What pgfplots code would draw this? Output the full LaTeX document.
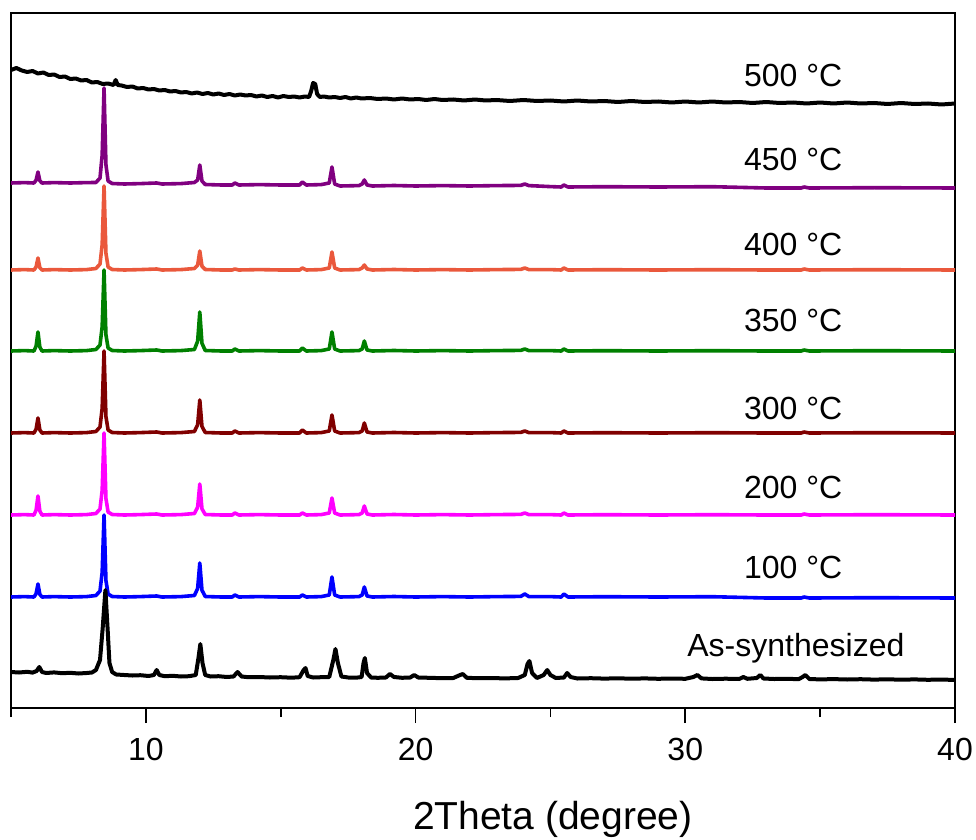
\documentclass[border=0pt]{standalone}
\usepackage{fontspec}
\setmainfont{Liberation Sans}
\usepackage{pgfplots}
\pgfplotsset{compat=1.18}

\definecolor{c500}{RGB}{0,0,0}
\definecolor{c450}{RGB}{128,0,128}
\definecolor{c400}{RGB}{234,88,60}
\definecolor{c350}{RGB}{0,128,0}
\definecolor{c300}{RGB}{128,0,0}
\definecolor{c200}{RGB}{255,0,255}
\definecolor{c100}{RGB}{0,0,255}

\begin{document}
\begin{tikzpicture}
\useasboundingbox (-11pt,-131pt) rectangle (965pt,708pt);
\begin{axis}[
  width=944pt, height=695pt, scale only axis,
  xmin=5, xmax=40, ymin=0, ymax=695,
  xtick={10,20,30,40}, minor xtick={5,15,25,35},
  ytick=\empty,
  tick pos=bottom, tick align=outside,
  major tick length=15pt, minor tick length=9pt,
  every tick/.style={black, line width=1.8pt},
  axis line style={line width=2.2pt},
  /pgf/number format/assume math mode=true,
  ticklabel style={font=\fontsize{32}{36}\selectfont},
  xticklabel style={yshift=-12pt},
  xlabel={2Theta (degree)},
  xlabel style={font=\fontsize{39}{44}\selectfont, at={(rel axis cs:0.574,0)}, anchor=center, yshift=-111pt},
  every axis plot/.append style={line width=3.6pt, line join=round},
]
% 500 C
\addplot[c500, line width=4pt] coordinates {
(5.0,638)(5.2,640)(5.4,637.5)(5.6,636)(5.8,637)(6.0,634.5)(6.2,635.5)(6.4,633)(6.6,633.5)(6.8,631)
(7.0,631.5)(7.2,629)(7.4,629.5)(7.6,627.5)(7.8,628)(8.0,625.5)(8.2,626)(8.4,624)(8.6,624.5)(8.8,623)
(8.88,628)(8.96,623)(9.1,622.5)(9.3,621)(9.5,621.5)(9.7,619.5)(9.9,620)(10.1,618.5)(10.3,619)(10.5,617.5)
(10.7,618)(10.9,616.5)(11.1,617)(11.3,615.5)(11.5,616)(11.7,614.5)(11.9,615.5)(12.1,614)(12.3,615)(12.5,613.5)
(12.7,614.5)(12.9,613)(13.1,614)(13.3,612.5)(13.5,613.5)(13.7,612.5)(13.9,613)(14.1,611.5)(14.3,612.5)(14.5,611)
(14.7,612)(14.9,610.5)(15.1,612)(15.3,611)(15.5,611.5)(15.7,610.5)(15.9,611.5)(16.05,611)(16.13,617)(16.2,625)
(16.28,624)(16.35,614)(16.45,611)(16.6,611.5)(16.8,610.5)(17.0,611)(17.2,610)(17.4,611)(17.6,609.5)(17.8,610.5)
(18.0,609.5)(18.3,610)(18.6,609)(18.9,609.5)(19.2,608.5)(19.5,609.5)(19.8,608.5)(20.1,609)(20.4,608)(20.7,609)
(21.0,608)(21.4,608.5)(21.8,607.5)(22.2,608.5)(22.6,607.5)(23.0,608)(23.5,607)(24.0,608)(24.5,607)(25.0,607.5)
(25.5,606.5)(26.0,607.5)(26.5,606.5)(27.0,607)(27.5,606)(28.0,607)(28.5,606)(29.0,606.5)(29.5,605.5)(30.0,606.5)
(30.5,605.5)(31.0,606.5)(31.5,605.5)(32.0,606)(32.5,605)(33.0,606)(33.5,605)(34.0,605.5)(34.5,604.5)(35.0,605.5)
(35.5,604.5)(36.0,605.5)(36.5,604.5)(37.0,605)(37.5,604)(38.0,605)(38.5,604)(39.0,604.5)(39.5,603.5)(40.0,604.5)
};
% 450 C
\addplot[c450] coordinates {
(5.0,525)(5.5,525.4)(5.85,525)(5.93,527.8)(6.0,536)(6.07,527.2)(6.15,525)(6.6,525.4)(7.2,525)(7.8,525.4)
(8.15,525.5)(8.3,530)(8.38,552.8)(8.45,620)(8.52,543.2)(8.6,527)(8.75,524.5)(9.2,524)(9.8,524.4)(10.4,525)
(10.6,524)(11.3,524.4)(11.8,525.5)(11.92,528)(12.0,543)(12.08,527)(12.2,523.5)(12.8,523)(13.2,523)(13.3,525)(13.45,523)
(14.2,523.4)(15.0,523)(15.7,523)(15.8,526)(15.95,523)(16.5,523.4)(16.8,525)(16.9,541)(17.0,524)(17.2,522)(17.9,522.4)
(18.02,524)(18.1,528)(18.2,523)(18.4,522)(19.2,522.5)(20.0,522)(21.0,522.4)(22.0,522)(23.0,522.4)(23.9,522.6)
(24.05,524)(24.2,522.4)(25.0,521.4)(25.4,521)(25.5,523)(25.65,521)(27.0,521.3)(29.0,521)(31.0,521.3)(33.0,520)(34.3,520)(34.4,521)
(34.6,520)(37.0,520.3)(40.0,520)
};
% 400 C
\addplot[c400] coordinates {
(5.0,438)(5.5,438.4)(5.85,438)(5.93,441)(6.0,450)(6.07,440.4)(6.15,438)(6.6,438.4)(7.2,438)(7.8,438.4)
(8.15,439.5)(8.3,444)(8.38,463.2)(8.45,522)(8.52,454.8)(8.6,441)(8.75,438.5)(9.2,438)(9.8,438.4)(10.4,439)
(10.6,438)(11.3,438.4)(11.8,439.5)(11.92,442.75)(12.0,457)(12.08,441.8)(12.2,438.5)(12.8,438)(13.2,438)(13.3,439)(13.45,438)
(14.2,438.4)(15.0,438)(15.7,438)(15.8,440)(15.95,438)(16.5,438.4)(16.8,440)(16.9,456)(17.0,440)(17.2,438)(17.9,438.4)
(18.02,440)(18.1,443)(18.2,439)(18.4,438)(19.2,438.5)(20.0,438)(21.0,438.4)(22.0,438)(23.0,438.4)(23.9,438.6)
(24.05,440)(24.2,438.4)(25.0,438.4)(25.4,438)(25.5,440)(25.65,438)(27.0,438.3)(29.0,438)(31.0,438.3)(33.0,438)(34.3,438)(34.4,439)
(34.6,438)(37.0,438.3)(40.0,438)
};
% 350 C
\addplot[c350] coordinates {
(5.0,357)(5.5,357.4)(5.85,357)(5.93,361.75)(6.0,376)(6.07,360.8)(6.15,357)(6.6,357.4)(7.2,357)(7.8,357.4)
(8.15,358.5)(8.3,363)(8.38,381.3)(8.45,438)(8.52,373.2)(8.6,360)(8.75,357.5)(9.2,357)(9.8,357.4)(10.4,358)
(10.6,357)(11.3,357.4)(11.8,358.5)(11.92,366.75)(12.0,396)(12.08,364.8)(12.2,357.5)(12.8,357)(13.2,357)(13.3,359)(13.45,357)
(14.2,357.4)(15.0,357)(15.7,357)(15.8,360)(15.95,357)(16.5,357.4)(16.8,359)(16.9,376)(17.0,359)(17.2,357)(17.9,357.4)
(18.02,359)(18.1,367)(18.2,358)(18.4,357)(19.2,357.5)(20.0,357)(21.0,357.4)(22.0,357)(23.0,357.4)(23.9,357.6)
(24.05,359)(24.2,357.4)(25.0,357.4)(25.4,357)(25.5,359)(25.65,357)(27.0,357.3)(29.0,357)(31.0,357.3)(33.0,357)(34.3,357)(34.4,358)
(34.6,357)(37.0,357.3)(40.0,357)
};
% 300 C
\addplot[c300] coordinates {
(5.0,275)(5.5,275.4)(5.85,275)(5.93,278.75)(6.0,290)(6.07,278)(6.15,275)(6.6,275.4)(7.2,275)(7.8,275.4)
(8.15,276.5)(8.3,281)(8.38,299.6)(8.45,357)(8.52,291.4)(8.6,278)(8.75,275.5)(9.2,275)(9.8,275.4)(10.4,276)
(10.6,275)(11.3,275.4)(11.8,276.5)(11.92,283.25)(12.0,308)(12.08,281.6)(12.2,275.5)(12.8,275)(13.2,275)(13.3,277)(13.45,275)
(14.2,275.4)(15.0,275)(15.7,275)(15.8,278)(15.95,275)(16.5,275.4)(16.8,277)(16.9,293)(17.0,277)(17.2,275)(17.9,275.4)
(18.02,277)(18.1,285)(18.2,276)(18.4,275)(19.2,275.5)(20.0,275)(21.0,275.4)(22.0,275)(23.0,275.4)(23.9,275.6)
(24.05,277)(24.2,275.4)(25.0,275.4)(25.4,275)(25.5,277)(25.65,275)(27.0,275.3)(29.0,275)(31.0,275.3)(33.0,275)(34.3,275)(34.4,276)
(34.6,275)(37.0,275.3)(40.0,275)
};
% 200 C
\addplot[c200] coordinates {
(5.0,193)(5.5,193.4)(5.85,193)(5.93,197.75)(6.0,212)(6.07,196.8)(6.15,193)(6.6,193.4)(7.2,193)(7.8,193.4)
(8.15,194.5)(8.3,199)(8.38,217.6)(8.45,275)(8.52,209.4)(8.6,196)(8.75,193.5)(9.2,193)(9.8,193.4)(10.4,194)
(10.6,193)(11.3,193.4)(11.8,194.5)(11.92,200.75)(12.0,224)(12.08,199.2)(12.2,193.5)(12.8,193)(13.2,193)(13.3,195)(13.45,193)
(14.2,193.4)(15.0,193)(15.7,193)(15.8,195)(15.95,193)(16.5,193.4)(16.8,195)(16.9,210)(17.0,195)(17.2,193)(17.9,193.4)
(18.02,195)(18.1,202)(18.2,194)(18.4,193)(19.2,193.5)(20.0,193)(21.0,193.4)(22.0,193)(23.0,193.4)(23.9,193.6)
(24.05,195)(24.2,193.4)(25.0,193.4)(25.4,193)(25.5,195)(25.65,193)(27.0,193.3)(29.0,193)(31.0,193.3)(33.0,193)(34.3,193)(34.4,194)
(34.6,193)(37.0,193.3)(40.0,193)
};
% 100 C
\addplot[c100] coordinates {
(5.0,111)(5.5,111.4)(5.85,111)(5.93,114.25)(6.0,124)(6.07,113.6)(6.15,111)(6.6,111.4)(7.2,111)(7.8,111.4)
(8.15,112.5)(8.3,117)(8.38,135.6)(8.45,193)(8.52,127.4)(8.6,114)(8.75,111.5)(9.2,111)(9.8,111.4)(10.4,112)
(10.6,111)(11.3,111.4)(11.8,112.5)(11.92,119.5)(12.0,145)(12.08,117.8)(12.2,111.5)(12.8,111)(13.2,111)(13.3,113)(13.45,111)
(14.2,111.4)(15.0,111)(15.7,111)(15.8,113)(15.95,111)(16.5,111.4)(16.8,113)(16.9,131)(17.0,113)(17.2,111)(17.9,111.4)
(18.02,113)(18.1,121)(18.2,112)(18.4,111)(19.2,111.5)(20.0,111)(21.0,111.4)(22.0,111)(23.0,111.4)(23.9,111.6)
(24.05,114)(24.2,111.4)(25.0,111.4)(25.4,111)(25.5,114)(25.65,111)(27.0,111.3)(29.0,111)(31.0,111.3)(33.0,110)(34.3,110)(34.4,111)
(34.6,110)(37.0,110.3)(40.0,110)
};
% As-synthesized
\addplot[black, line width=4pt] coordinates {
(5.0,36)(5.3,35.5)(5.6,36.2)(5.8,35.4)(5.95,37)(6.05,41)(6.15,36)(6.3,35)(6.6,35.6)(6.9,34.8)
(7.2,35.2)(7.5,34.5)(7.8,35)(8.0,35.5)(8.15,38)(8.3,48)(8.4,80)(8.5,118)(8.58,80)(8.65,45)
(8.75,36)(8.9,33.5)(9.2,33)(9.5,32.5)(9.8,32.8)(10.1,32)(10.3,33)(10.4,38)(10.5,33)(10.7,31.8)
(11.0,32.2)(11.3,31.5)(11.6,31.8)(11.85,33)(11.95,50)(12.02,64)(12.1,45)(12.2,33)(12.4,31.5)(12.7,31.8)
(13.0,31)(13.25,31.5)(13.4,36)(13.55,31.5)(13.8,30.8)(14.2,31)(14.6,30.5)(15.0,30.8)(15.4,30.3)(15.7,30.8)
(15.85,38)(15.92,40)(16.0,32)(16.2,30.5)(16.5,30.8)(16.8,31)(16.95,48)(17.03,59)(17.12,45)(17.25,31.5)
(17.5,30.5)(17.8,30.3)(18.0,31)(18.07,45)(18.12,50)(18.2,35)(18.35,30.5)(18.6,30.2)(18.9,30.5)(19.05,34)
(19.2,31)(19.5,30.2)(19.8,30.5)(19.95,33)(20.1,30.5)(20.5,30.2)(21.0,29.8)(21.4,30)(21.65,33)(21.75,34)
(21.9,30.2)(22.3,29.8)(22.8,30)(23.3,29.6)(23.8,30)(24.05,33)(24.15,44)(24.22,47)(24.32,35)(24.5,30)
(24.75,33)(24.88,38)(25.0,33)(25.2,30)(25.5,30.5)(25.62,35)(25.75,31)(26.0,29.5)(26.5,29.8)(27.0,29.4)
(27.5,29.7)(28.0,29.3)(28.5,29.6)(29.0,29.2)(29.5,29.5)(30.0,29.2)(30.3,31)(30.45,33)(30.6,29.6)(31.0,29)
(31.5,29.3)(32.0,29)(32.15,31)(32.3,29.2)(32.65,30)(32.78,33)(32.9,29.5)(33.3,29)(33.8,29.2)(34.2,28.8)
(34.35,31)(34.45,33)(34.6,29)(35.0,28.6)(35.5,28.9)(36.0,28.5)(36.5,28.8)(37.0,28.4)(37.5,28.7)(38.0,28.3)
(38.5,28.6)(39.0,28.2)(39.5,28.5)(40.0,28)
};
% Sample labels
\begin{scope}[every node/.style={font=\fontsize{32}{36}\selectfont, anchor=center, inner sep=0pt}]
\node at (axis cs:34.0,633) {500 °C};
\node at (axis cs:34.0,549) {450 °C};
\node at (axis cs:34.0,464) {400 °C};
\node at (axis cs:34.0,388) {350 °C};
\node at (axis cs:34.0,300) {300 °C};
\node at (axis cs:34.0,221) {200 °C};
\node at (axis cs:34.0,141) {100 °C};
\node at (axis cs:34.1,60) {As-synthesized};
\end{scope}
\end{axis}
\end{tikzpicture}
\end{document}
